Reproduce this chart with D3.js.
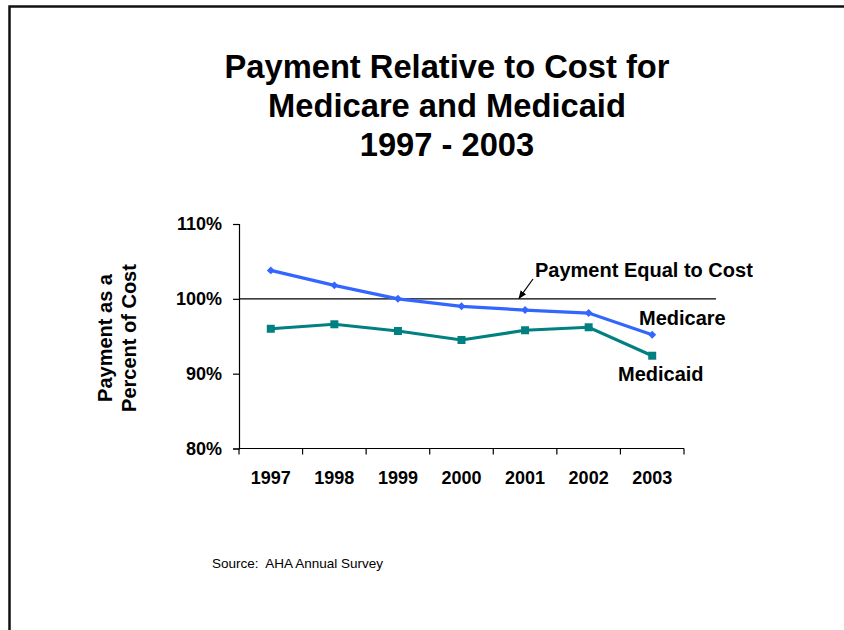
<!DOCTYPE html>
<html>
<head>
<meta charset="utf-8">
<script src="https://cdn.jsdelivr.net/npm/d3@7"></script>
<style>
  html, body { margin: 0; padding: 0; background: #fff; }
  svg { display: block; font-family: "Liberation Sans", Arial, sans-serif; }
</style>
</head>
<body>
<svg id="chart" width="844" height="630"></svg>
<script>
// Payment-to-cost ratios by year
const years = ["1997", "1998", "1999", "2000", "2001", "2002", "2003"];
const medicare = [1.038, 1.018, 1.000, 0.990, 0.985, 0.981, 0.952];
const medicaid = [0.960, 0.966, 0.957, 0.945, 0.958, 0.962, 0.924];
const yTicks = [0.8, 0.9, 1.0, 1.1];
const titleLines = ["Payment Relative to Cost for", "Medicare and Medicaid", "1997 - 2003"];
const yTitleLines = ["Payment as a", "Percent of Cost"];
const breakEven = 1.0;

const svg = d3.select("#chart");

// slide frame
svg.append("rect")
  .attr("x", 9.5).attr("y", 6.5)
  .attr("width", 900).attr("height", 700)
  .attr("fill", "none").attr("stroke", "#111").attr("stroke-width", 2.5);

// title
svg.append("text")
  .attr("text-anchor", "middle")
  .attr("font-weight", "bold")
  .attr("font-size", 32.7)
  .selectAll("tspan").data(titleLines).join("tspan")
  .attr("x", 447).attr("y", (d, i) => 78 + i * 39)
  .text(d => d);

const x = d3.scaleBand().domain(years).range([239, 684]);
const y = d3.scaleLinear().domain([0.8, 1.1]).range([448.5, 224]);

// y axis
const yAxis = svg.append("g")
  .attr("transform", "translate(239,0)")
  .call(d3.axisLeft(y).tickValues(yTicks).tickFormat(d3.format(".0%")).tickSizeOuter(0).tickSize(6).tickPadding(11));
yAxis.select(".domain").attr("stroke", "#000").attr("stroke-width", 1.2);
yAxis.selectAll(".tick line").attr("stroke", "#000").attr("stroke-width", 1.2);
yAxis.selectAll(".tick text")
  .attr("font-family", "Liberation Sans, Arial, sans-serif")
  .attr("font-size", 18).attr("font-weight", "bold").attr("fill", "#000");

// x axis with ticks at category boundaries
const xAxis = svg.append("g")
  .attr("transform", "translate(0,448.5)");
xAxis.append("line")
  .attr("x1", 239).attr("x2", 684)
  .attr("stroke", "#000").attr("stroke-width", 1.2);
const bounds = years.map(d => x(d)).concat([x(years[years.length - 1]) + x.bandwidth()]);
xAxis.selectAll("line.tk").data(bounds).join("line")
  .attr("class", "tk")
  .attr("x1", d => d).attr("x2", d => d)
  .attr("y1", 0).attr("y2", 6)
  .attr("stroke", "#000").attr("stroke-width", 1.2);
xAxis.selectAll("text").data(years).join("text")
  .attr("x", d => x(d) + x.bandwidth() / 2)
  .attr("y", 35.5)
  .attr("text-anchor", "middle")
  .attr("font-size", 18).attr("font-weight", "bold")
  .text(d => d);

// y axis title
svg.append("text")
  .attr("transform", "translate(112,338) rotate(-90)")
  .attr("text-anchor", "middle")
  .attr("font-weight", "bold")
  .attr("font-size", 20)
  .selectAll("tspan").data(yTitleLines).join("tspan")
  .attr("x", 0).attr("y", (d, i) => i * 24)
  .text(d => d);

// break-even reference line
svg.append("line")
  .attr("x1", 239).attr("x2", 716)
  .attr("y1", y(breakEven)).attr("y2", y(breakEven))
  .attr("stroke", "#000").attr("stroke-width", 1.2);

const cx = d => x(d) + x.bandwidth() / 2;
const line = d3.line().x((d, i) => cx(years[i])).y(d => y(d));

// Medicare series
svg.append("path").datum(medicare)
  .attr("d", line).attr("fill", "none")
  .attr("stroke", "#3366ff").attr("stroke-width", 3.2);
svg.append("g").selectAll("path").data(medicare).join("path")
  .attr("d", d3.symbol(d3.symbolDiamond2, 40))
  .attr("transform", (d, i) => `translate(${cx(years[i])},${y(d)})`)
  .attr("fill", "#3366ff");

// Medicaid series
svg.append("path").datum(medicaid)
  .attr("d", line).attr("fill", "none")
  .attr("stroke", "#008080").attr("stroke-width", 3.2);
svg.append("g").selectAll("rect").data(medicaid).join("rect")
  .attr("x", (d, i) => cx(years[i]) - 4).attr("y", d => y(d) - 4)
  .attr("width", 8).attr("height", 8)
  .attr("fill", "#008080");

// annotation arrow
svg.append("defs").append("marker")
  .attr("id", "arrowhead")
  .attr("viewBox", "0 0 10 10").attr("refX", 9).attr("refY", 5)
  .attr("markerWidth", 7).attr("markerHeight", 7)
  .attr("orient", "auto")
  .append("path").attr("d", "M0,1 L10,5 L0,9 Z").attr("fill", "#000");
svg.append("line")
  .attr("x1", 533).attr("y1", 279)
  .attr("x2", 519).attr("y2", y(breakEven) - 0.5)
  .attr("stroke", "#000").attr("stroke-width", 1.2)
  .attr("marker-end", "url(#arrowhead)");

// annotations
const labels = [
  { text: "Payment Equal to Cost", x: 535, y: 277 },
  { text: "Medicare", x: 639, y: 325 },
  { text: "Medicaid", x: 618, y: 381 }
];
svg.append("g").selectAll("text").data(labels).join("text")
  .attr("x", d => d.x).attr("y", d => d.y)
  .attr("font-size", 20).attr("font-weight", "bold")
  .text(d => d.text);

// source note
svg.append("text")
  .attr("x", 212).attr("y", 567.5)
  .attr("font-size", 13.5)
  .style("white-space", "pre")
  .text("Source:  AHA Annual Survey");
</script>
</body>
</html>
